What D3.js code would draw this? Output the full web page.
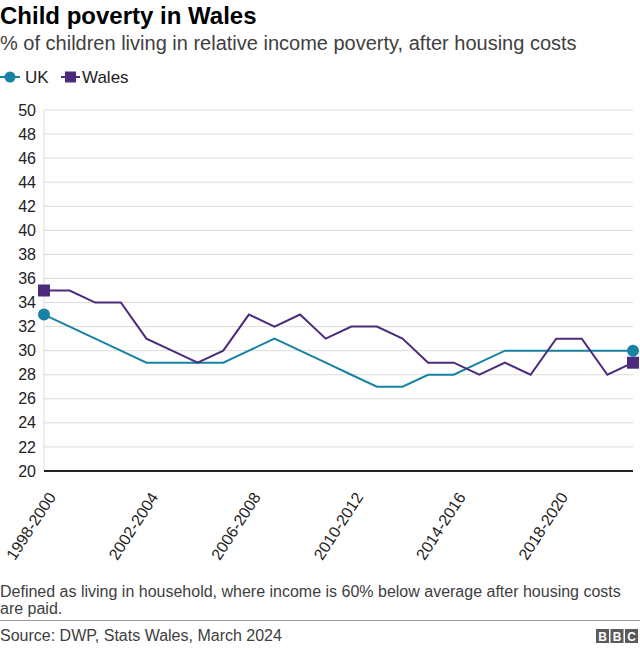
<!DOCTYPE html>
<html><head><meta charset="utf-8">
<script src="https://cdn.jsdelivr.net/npm/d3@7"></script>
<style>
body{margin:0;background:#fff;font-family:"Liberation Sans",Arial,Helvetica,sans-serif;}
</style></head>
<body><svg id="c" width="640" height="649"></svg>
<script>
const categories = ["1998-2000","1999-2001","2000-2002","2001-2003","2002-2004","2003-2005","2004-2006","2005-2007","2006-2008","2007-2009","2008-2010","2009-2011","2010-2012","2011-2013","2012-2014","2013-2015","2014-2016","2015-2017","2016-2018","2017-2019","2018-2020","2019-2021","2020-2022","2021-2023"];
const ukValues =    [33,32,31,30,29,29,29,29,30,31,30,29,28,27,27,28,28,29,30,30,30,30,30,30];
const walesValues = [35,35,34,34,31,30,29,30,33,32,33,31,32,32,31,29,29,28,29,28,31,31,28,29];
const yTicks = [20,22,24,26,28,30,32,34,36,38,40,42,44,46,48,50];
const xTickLabels = ["1998-2000","2002-2004","2006-2008","2010-2012","2014-2016","2018-2020"];
const seriesNames = ["UK","Wales"];
const colUK = "#1683a3", colWales = "#4c2a7c";

const svg = d3.select("#c");
const x = d3.scalePoint().domain(categories).range([44, 633]);
const y = d3.scaleLinear().domain([20, 50]).range([471, 110]);

svg.append("text").attr("x",0).attr("y",24).attr("font-size",24).attr("font-weight","bold").attr("fill","#000").text("Child poverty in Wales");
svg.append("text").attr("x",0).attr("y",50).attr("font-size",20).attr("fill","#404040").text("% of children living in relative income poverty, after housing costs");

// legend
const lg = svg.append("g");
lg.append("line").attr("x1",0).attr("x2",20).attr("y1",77).attr("y2",77).attr("stroke",colUK).attr("stroke-width",2);
lg.append("circle").attr("cx",10).attr("cy",77).attr("r",5.5).attr("fill",colUK);
lg.append("text").attr("x",25).attr("y",83).attr("font-size",17).attr("fill","#222").text(seriesNames[0]);
lg.append("line").attr("x1",61).attr("x2",80).attr("y1",77).attr("y2",77).attr("stroke",colWales).attr("stroke-width",2);
lg.append("rect").attr("x",65).attr("y",71.5).attr("width",11).attr("height",11).attr("fill",colWales);
lg.append("text").attr("x",82).attr("y",83).attr("font-size",17).attr("fill","#222").text(seriesNames[1]);

// y axis & grid
const yAxis = d3.axisLeft(y).tickValues(yTicks).tickSize(0).tickPadding(8);
const yg = svg.append("g").attr("transform","translate(44,0)").call(yAxis);
yg.select(".domain").remove();
yg.selectAll("text").attr("font-size",16).attr("fill","#222").attr("font-family","Liberation Sans,Arial,sans-serif");
svg.append("g").selectAll("line").data(yTicks.filter(d=>d>20)).join("line")
  .attr("x1",44).attr("x2",633).attr("y1",d=>y(d)).attr("y2",d=>y(d))
  .attr("stroke","#dcdcdc").attr("stroke-width",1);
svg.append("line").attr("x1",44).attr("x2",44).attr("y1",110).attr("y2",471).attr("stroke","#dcdcdc").attr("stroke-width",1);

// x axis
const xAxis = d3.axisBottom(x).tickValues(xTickLabels).tickSize(0).tickPadding(0);
const xg = svg.append("g").attr("transform","translate(0,471)").call(xAxis);
xg.select(".domain").remove();
xg.selectAll("text").attr("font-size",16).attr("fill","#222").attr("font-family","Liberation Sans,Arial,sans-serif")
  .attr("text-anchor","end").attr("dy",0).attr("dx",0)
  .attr("transform","translate(12,26) rotate(-57)");
svg.append("line").attr("x1",44).attr("x2",633).attr("y1",471).attr("y2",471).attr("stroke","#222").attr("stroke-width",2);

// lines
const line = d3.line().x((d,i)=>x(categories[i])).y(d=>y(d));
svg.append("path").datum(ukValues).attr("d",line).attr("fill","none").attr("stroke",colUK).attr("stroke-width",2);
svg.append("path").datum(walesValues).attr("d",line).attr("fill","none").attr("stroke",colWales).attr("stroke-width",2);

const last = categories.length-1;
[0,last].forEach(i=>{
  svg.append("circle").attr("cx",x(categories[i])).attr("cy",y(ukValues[i])).attr("r",6).attr("fill",colUK);
  svg.append("rect").attr("x",x(categories[i])-6).attr("y",y(walesValues[i])-6).attr("width",12).attr("height",12).attr("fill",colWales);
});

// footer
svg.append("text").attr("x",0).attr("y",597).attr("font-size",16).attr("fill","#404040").text("Defined as living in household, where income is 60% below average after housing costs");
svg.append("text").attr("x",0).attr("y",614).attr("font-size",16).attr("fill","#404040").text("are paid.");
svg.append("line").attr("x1",0).attr("x2",640).attr("y1",620.5).attr("y2",620.5).attr("stroke","#999").attr("stroke-width",1);
svg.append("text").attr("x",0).attr("y",641).attr("font-size",16).attr("fill","#404040").text("Source: DWP, Stats Wales, March 2024");
const bbc = svg.append("g");
["B","B","C"].forEach((t,i)=>{
  bbc.append("rect").attr("x",596+i*14.5).attr("y",629).attr("width",13).attr("height",14).attr("fill","#5a5a5a");
  bbc.append("text").attr("x",596+i*14.5+6.5).attr("y",640.5).attr("text-anchor","middle").attr("font-size",12).attr("font-weight","bold").attr("fill","#fff").text(t);
});
</script></body></html>
